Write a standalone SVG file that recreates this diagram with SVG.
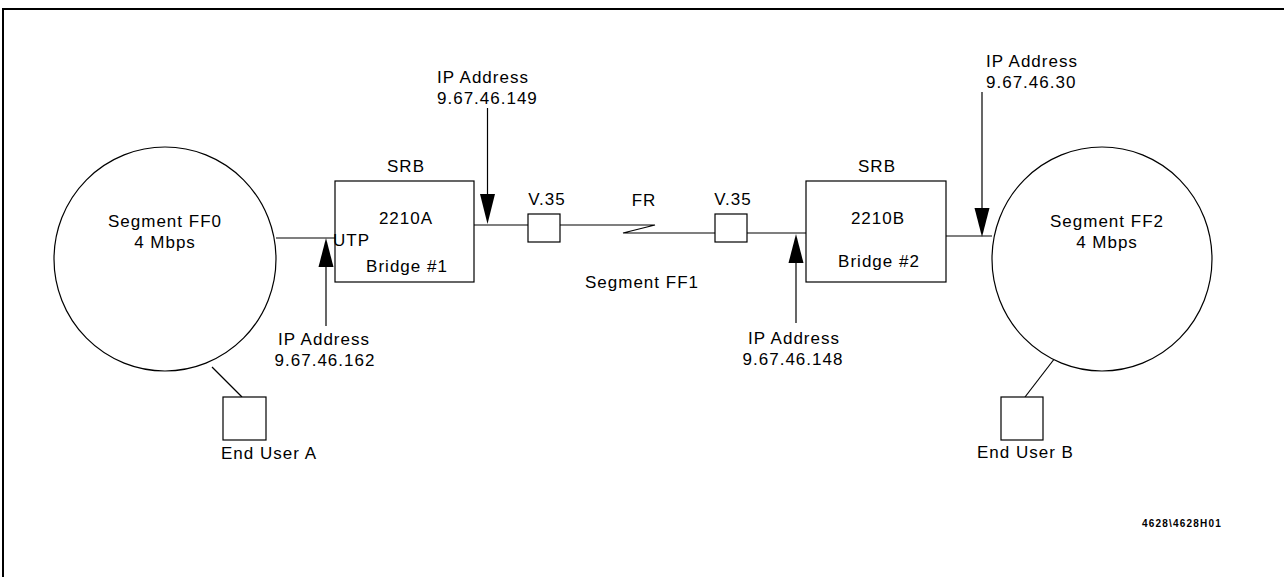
<svg xmlns="http://www.w3.org/2000/svg" width="1284" height="577" viewBox="0 0 1284 577">
<style>
text{font-family:"Liberation Sans",Arial,sans-serif;font-size:17px;letter-spacing:1px;fill:#000}
.m{text-anchor:middle}
.s{fill:none;stroke:#000;stroke-width:1.2}
.w{fill:#fff;stroke:#000;stroke-width:1.2}
.id{font-size:10px;font-weight:bold;letter-spacing:1.2px}
</style>
<rect width="1284" height="577" fill="#fff"/>
<path d="M3,577 L3,9 L1284,9" fill="none" stroke="#000" stroke-width="2"/>
<g id="connectors">
<line class="s" x1="276" y1="238" x2="335" y2="238"/>
<line class="s" x1="474" y1="225" x2="528" y2="225"/>
<polyline class="s" points="560,225 655,225 623,233 715,233"/>
<line class="s" x1="747" y1="233" x2="806" y2="233"/>
<line class="s" x1="946" y1="236" x2="992" y2="236"/>
<line class="s" x1="212" y1="367" x2="242" y2="397"/>
<line class="s" x1="1055" y1="358" x2="1025" y2="397"/>
<line class="s" x1="326" y1="262" x2="326" y2="326"/>
<path d="M318.5,267 L333.5,267 L326,238 Z"/>
<line class="s" x1="487.5" y1="108" x2="487.5" y2="196"/>
<path d="M480,194 L495,194 L487.5,224 Z"/>
<line class="s" x1="796" y1="258" x2="796" y2="323"/>
<path d="M788.5,263 L803.5,263 L796,234 Z"/>
<line class="s" x1="982" y1="92" x2="982" y2="210"/>
<path d="M974.5,208 L989.5,208 L982,237 Z"/>
</g>
<g id="seg-ff0">
<ellipse class="w" cx="165" cy="259" rx="111" ry="112"/>
<text class="m" x="165" y="227">Segment FF0</text>
<text class="m" x="165" y="248">4 Mbps</text>
</g>
<g id="seg-ff2">
<ellipse class="w" cx="1102" cy="259" rx="110" ry="112"/>
<text class="m" x="1107" y="227">Segment FF2</text>
<text class="m" x="1107" y="248">4 Mbps</text>
</g>
<g id="bridge1">
<rect class="w" x="335" y="181" width="139" height="101"/>
<text class="m" x="406" y="172">SRB</text>
<text class="m" x="406" y="224">2210A</text>
<text class="m" x="407" y="272">Bridge #1</text>
<text x="333" y="246">UTP</text>
</g>
<g id="bridge2">
<rect class="w" x="806" y="181" width="140" height="101"/>
<text class="m" x="877" y="172">SRB</text>
<text class="m" x="878" y="224">2210B</text>
<text class="m" x="879" y="267">Bridge #2</text>
</g>
<g id="v35a">
<rect class="w" x="528" y="214" width="32" height="28"/>
<text class="m" x="547" y="205">V.35</text>
</g>
<g id="v35b">
<rect class="w" x="715" y="214" width="32" height="28"/>
<text class="m" x="733" y="205">V.35</text>
</g>
<g id="fr">
<text class="m" x="644" y="206">FR</text>
<text class="m" x="642" y="288">Segment FF1</text>
</g>
<g id="userA">
<rect class="w" x="223" y="397" width="43" height="43"/>
<text x="221" y="459">End User A</text>
</g>
<g id="userB">
<rect class="w" x="1001" y="397" width="42" height="43"/>
<text x="977" y="458">End User B</text>
</g>
<g id="ip162">
<text class="m" x="324" y="345">IP Address</text>
<text class="m" x="325" y="366">9.67.46.162</text>
</g>
<g id="ip149">
<text x="437" y="83">IP Address</text>
<text x="437" y="104">9.67.46.149</text>
</g>
<g id="ip148">
<text class="m" x="794" y="344">IP Address</text>
<text class="m" x="793" y="365">9.67.46.148</text>
</g>
<g id="ip30">
<text x="986" y="67">IP Address</text>
<text x="986" y="88">9.67.46.30</text>
</g>
<text class="id" x="1142" y="527">4628\4628H01</text>
</svg>
